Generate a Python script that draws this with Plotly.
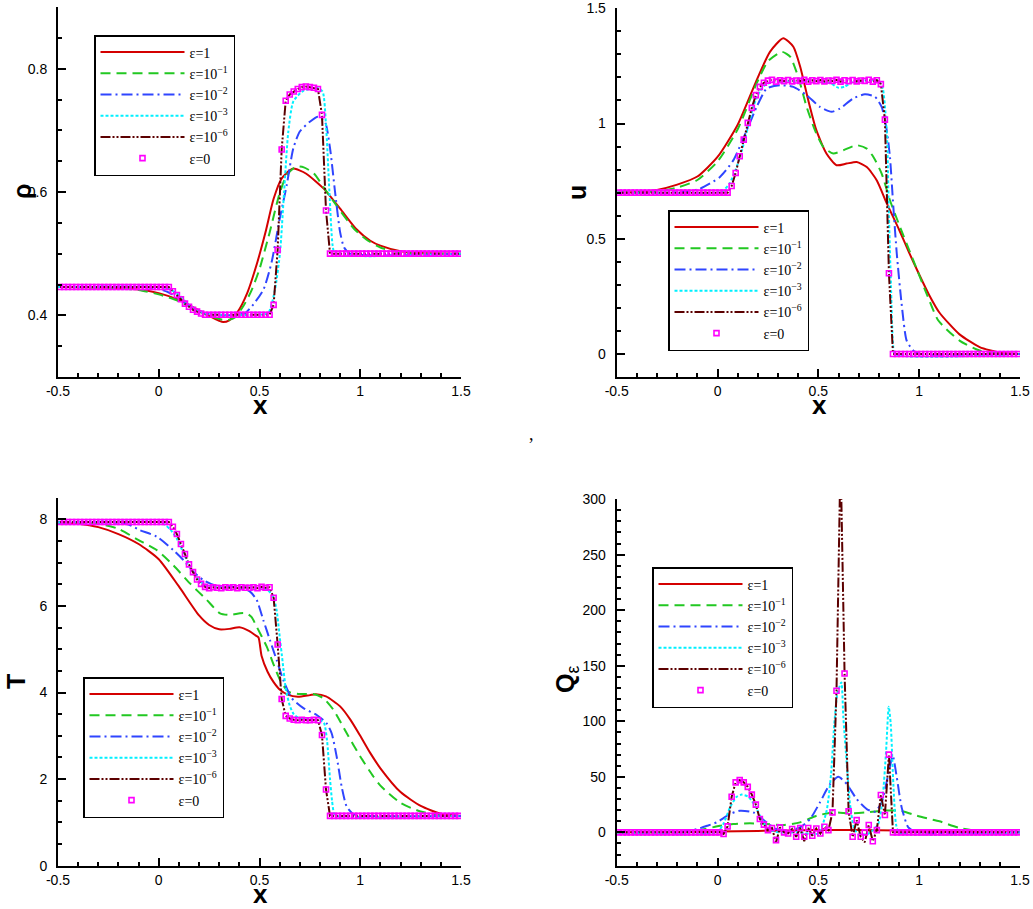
import numpy as np
import plotly.graph_objects as go

W, H = 1033, 909

# cell centres of the 100-cell mesh used by the eps=0 / eps=1e-6 runs
x_cells = np.round(np.arange(-0.49, 1.5, 0.02), 2)

labels = ["ε=1", "ε=10<sup>−1</sup>", "ε=10<sup>−2</sup>", "ε=10<sup>−3</sup>",
          "ε=10<sup>−6</sup>", "ε=0"]

# ---------------- density rho ----------------
rho_e1_x = [-0.5, -0.3, -0.2, -0.1, 0.0, 0.1, 0.2, 0.25, 0.3, 0.32, 0.35, 0.39, 0.44, 0.49, 0.53,
            0.57, 0.61, 0.65, 0.67, 0.73, 0.82, 0.9, 0.98, 1.05, 1.1, 1.2, 1.3, 1.5]
rho_e1 = [0.446, 0.445, 0.444, 0.442, 0.436, 0.425, 0.408, 0.399, 0.391, 0.389, 0.392, 0.405, 0.437,
          0.487, 0.535, 0.589, 0.622, 0.635, 0.638, 0.630, 0.605, 0.573, 0.540, 0.521, 0.513, 0.504,
          0.501, 0.500]
rho_e2_x = [-0.5, -0.2, -0.1, 0.0, 0.1, 0.2, 0.3, 0.34, 0.38, 0.42, 0.46, 0.5, 0.55, 0.6, 0.635, 0.68,
            0.72, 0.77, 0.83, 0.9, 0.97, 1.03, 1.1, 1.2, 1.3, 1.5]
rho_e2 = [0.446, 0.444, 0.441, 0.434, 0.423, 0.406, 0.394, 0.392, 0.397, 0.415, 0.440, 0.475, 0.534,
          0.598, 0.627, 0.641, 0.640, 0.630, 0.602, 0.570, 0.540, 0.523, 0.510, 0.502, 0.500, 0.500]
rho_e3_x = [-0.5, -0.1, -0.05, 0.0, 0.05, 0.1, 0.15, 0.2, 0.25, 0.3, 0.35, 0.4, 0.43, 0.47, 0.52, 0.56,
            0.6, 0.635, 0.668, 0.7, 0.75, 0.79, 0.825, 0.85, 0.875, 0.9, 0.92, 0.95, 1.5]
rho_e3 = [0.446, 0.446, 0.445, 0.443, 0.437, 0.427, 0.416, 0.407, 0.402, 0.400, 0.400, 0.401, 0.404,
          0.418, 0.442, 0.486, 0.556, 0.611, 0.671, 0.698, 0.714, 0.722, 0.714, 0.671, 0.600, 0.535,
          0.510, 0.500, 0.500]
rho_e4_x = [-0.5, 0.0, 0.05, 0.1, 0.15, 0.2, 0.25, 0.3, 0.5, 0.544, 0.577, 0.602, 0.622, 0.643, 0.668,
            0.717, 0.784, 0.813, 0.83, 0.847, 0.863, 0.875, 1.5]
rho_e4 = [0.446, 0.446, 0.443, 0.433, 0.417, 0.407, 0.402, 0.401, 0.401, 0.404, 0.442, 0.502, 0.600,
          0.698, 0.747, 0.764, 0.769, 0.763, 0.709, 0.600, 0.513, 0.500, 0.500]
rho_e0 = ([0.446] * 28
          + [0.439, 0.433, 0.426, 0.419, 0.414, 0.409, 0.406, 0.403, 0.401]
          + [0.401] * 16
          + [0.417, 0.506, 0.669, 0.748, 0.758, 0.763, 0.767, 0.770, 0.771, 0.770, 0.769, 0.767,
             0.725, 0.570]
          + [0.500] * 33)
rho_e6 = list(rho_e0)

# ---------------- velocity u ----------------
u_e1_x = [-0.5, -0.4, -0.3, -0.2, -0.1, 0.0, 0.1, 0.19, 0.26, 0.326, 0.376, 0.41, 0.45, 0.49, 0.54,
          0.59, 0.64, 0.69, 0.74, 0.79, 0.84, 0.9, 0.95, 1.0, 1.05, 1.1, 1.2, 1.3, 1.4, 1.5]
u_e1 = [0.700, 0.703, 0.712, 0.735, 0.770, 0.855, 0.995, 1.180, 1.311, 1.370, 1.333, 1.246, 1.101,
        0.971, 0.870, 0.819, 0.826, 0.833, 0.811, 0.753, 0.652, 0.540, 0.440, 0.345, 0.255, 0.180,
        0.085, 0.030, 0.006, 0.000]
u_e2_x = [-0.5, -0.3, -0.2, -0.1, 0.0, 0.1, 0.194, 0.25, 0.32, 0.36, 0.40, 0.442, 0.483, 0.525, 0.574,
          0.624, 0.69, 0.74, 0.773, 0.814, 0.855, 0.905, 0.971, 1.037, 1.095, 1.2, 1.3, 1.4, 1.5]
u_e2 = [0.700, 0.706, 0.722, 0.755, 0.835, 0.975, 1.174, 1.270, 1.311, 1.290, 1.203, 1.072, 0.971,
        0.898, 0.870, 0.884, 0.906, 0.891, 0.855, 0.783, 0.667, 0.551, 0.406, 0.261, 0.145, 0.058,
        0.015, 0.002, 0.000]
u_e3_x = [-0.5, -0.25, -0.15, -0.087, 0.012, 0.078, 0.145, 0.194, 0.244, 0.31, 0.376, 0.442, 0.508,
          0.566, 0.607, 0.673, 0.731, 0.781, 0.814, 0.839, 0.855, 0.872, 0.889, 0.913, 0.938, 0.971,
          1.0, 1.5]
u_e3 = [0.700, 0.700, 0.705, 0.717, 0.768, 0.840, 0.971, 1.072, 1.152, 1.166, 1.159, 1.123, 1.072,
        1.051, 1.065, 1.109, 1.127, 1.116, 1.072, 0.971, 0.855, 0.637, 0.435, 0.217, 0.058, 0.014,
        0.000, 0.000]
u_e4_x = [-0.5, 0.0, 0.03, 0.06, 0.09, 0.12, 0.15, 0.18, 0.21, 0.24, 0.28, 0.5, 0.56, 0.6, 0.63, 0.67,
          0.8, 0.82, 0.84, 0.85, 0.86, 0.87, 0.88, 1.5]
u_e4 = [0.700, 0.700, 0.710, 0.740, 0.800, 0.880, 0.980, 1.080, 1.140, 1.170, 1.180, 1.185, 1.175,
        1.155, 1.160, 1.180, 1.185, 1.150, 0.950, 0.600, 0.300, 0.050, 0.000, 0.000]
u_e0 = ([0.700] * 28
        + [0.729, 0.785, 0.858, 0.930, 1.003, 1.068, 1.123, 1.159, 1.177]
        + [1.186, 1.190, 1.182, 1.188, 1.184, 1.189, 1.183, 1.187, 1.185, 1.190, 1.182, 1.188, 1.184,
           1.189, 1.183, 1.187, 1.185, 1.190, 1.182, 1.188, 1.184, 1.189, 1.183, 1.187, 1.185, 1.190,
           1.182, 1.188]
        + [1.171, 1.017, 0.350]
        + [0.000] * 32)
u_e6 = list(u_e0)

# ---------------- temperature T ----------------
T_e1_x = [-0.5, -0.4, -0.3, -0.2, -0.1, 0.0, 0.1, 0.2, 0.25, 0.3, 0.35, 0.4, 0.45, 0.48, 0.495, 0.51,
          0.54, 0.57, 0.6, 0.64, 0.69, 0.75, 0.78, 0.83, 0.9, 0.95, 1.0, 1.05, 1.1, 1.2, 1.3, 1.4, 1.5]
T_e1 = [7.93, 7.90, 7.82, 7.66, 7.43, 7.08, 6.45, 5.78, 5.56, 5.46, 5.47, 5.51, 5.42, 5.32, 5.27, 4.85,
        4.48, 4.24, 4.07, 3.95, 3.90, 3.94, 3.96, 3.91, 3.68, 3.38, 3.00, 2.60, 2.25, 1.70, 1.38, 1.20,
        1.15]
T_e2_x = [-0.5, -0.3, -0.2, -0.1, -0.01, 0.072, 0.155, 0.238, 0.304, 0.354, 0.403, 0.436, 0.461, 0.486,
          0.536, 0.568, 0.602, 0.643, 0.70, 0.767, 0.817, 0.867, 0.933, 1.0, 1.065, 1.1, 1.2, 1.3, 1.4,
          1.5]
T_e2 = [7.93, 7.90, 7.78, 7.52, 7.29, 6.94, 6.52, 6.14, 5.83, 5.79, 5.83, 5.83, 5.74, 5.52, 5.06, 4.67,
        4.29, 4.02, 3.965, 3.965, 3.87, 3.60, 3.06, 2.52, 2.06, 1.85, 1.45, 1.25, 1.17, 1.15]
T_e3_x = [-0.5, -0.2, -0.15, -0.093, -0.01, 0.072, 0.122, 0.171, 0.221, 0.287, 0.403, 0.453, 0.486,
          0.519, 0.552, 0.585, 0.618, 0.66, 0.718, 0.784, 0.833, 0.858, 0.883, 0.908, 0.933, 0.966,
          1.015, 1.5]
T_e3 = [7.93, 7.92, 7.88, 7.75, 7.60, 7.29, 7.06, 6.79, 6.60, 6.46, 6.43, 6.33, 6.14, 5.67, 5.21, 4.75,
        4.29, 3.87, 3.64, 3.48, 3.29, 3.06, 2.52, 1.82, 1.36, 1.19, 1.15, 1.15]
T_e4_x = [-0.5, 0.0, 0.03, 0.06, 0.09, 0.12, 0.15, 0.18, 0.21, 0.25, 0.3, 0.5, 0.54, 0.57, 0.585, 0.6,
          0.615, 0.63, 0.65, 0.67, 0.7, 0.8, 0.82, 0.835, 0.85, 0.86, 0.87, 0.88, 1.5]
T_e4 = [7.93, 7.93, 7.88, 7.75, 7.55, 7.25, 6.95, 6.72, 6.55, 6.45, 6.43, 6.42, 6.37, 6.2, 5.9, 5.3,
        4.7, 4.1, 3.7, 3.5, 3.4, 3.36, 3.3, 2.9, 2.0, 1.5, 1.2, 1.15, 1.15]
T_e0 = ([7.94] * 28
        + [7.83, 7.66, 7.43, 7.20, 6.96, 6.78, 6.61, 6.51, 6.44]
        + [6.41, 6.43, 6.42, 6.41, 6.43, 6.42, 6.43, 6.41, 6.43, 6.42, 6.42, 6.43, 6.41, 6.44, 6.42,
           6.43]
        + [6.19, 5.11, 3.85, 3.46, 3.40]
        + [3.37, 3.36, 3.37, 3.36, 3.36, 3.37, 3.36]
        + [3.02, 1.76]
        + [1.15] * 33)
T_e6 = list(T_e0)

# ---------------- source term Q_eps ----------------
Q_e1_x = [-0.5, -0.2, 0.0, 0.2, 0.4, 0.6, 0.8, 1.0, 1.2, 1.4, 1.5]
Q_e1 = [0.0, 0.2, 0.8, 1.3, 1.8, 2.2, 2.0, 1.4, 0.6, 0.1, 0.0]
Q_e2_x = [-0.5, -0.2, -0.087, 0.012, 0.078, 0.161, 0.244, 0.326, 0.409, 0.492, 0.574, 0.657, 0.74,
          0.822, 0.905, 0.988, 1.054, 1.1, 1.2, 1.3, 1.4, 1.5]
Q_e2 = [0.0, 0.5, 2.1, 6.0, 7.5, 8.1, 7.5, 6.6, 9.0, 15.0, 18.0, 17.1, 18.0, 19.5, 19.5, 15.0, 12.0,
        10.0, 4.0, 1.0, 0.2, 0.0]
Q_e3_x = [-0.5, -0.2, -0.12, -0.05, -0.004, 0.062, 0.111, 0.177, 0.244, 0.293, 0.359, 0.409, 0.459,
          0.508, 0.558, 0.599, 0.641, 0.69, 0.74, 0.781, 0.814, 0.847, 0.869, 0.889, 0.913, 0.946,
          0.988, 1.5]
Q_e3 = [0.0, 0.0, 2.0, 6.0, 9.0, 16.5, 19.5, 18.0, 9.0, 3.0, 2.0, 4.5, 12.0, 27.0, 43.5, 50.0, 43.5,
        30.0, 21.0, 18.6, 27.0, 52.5, 69.0, 49.5, 22.5, 4.5, 0.5, 0.0]
Q_e4_x = [-0.5, -0.004, 0.029, 0.062, 0.095, 0.12, 0.153, 0.186, 0.219, 0.252, 0.3, 0.4, 0.5, 0.541,
          0.563, 0.579, 0.594, 0.614, 0.624, 0.641, 0.657, 0.677, 0.7, 0.75, 0.797, 0.819, 0.836,
          0.849, 0.859, 0.872, 0.885, 0.9, 1.5]
Q_e4 = [0.0, 0.0, 7.5, 22.5, 32.0, 34.0, 32.0, 24.0, 12.0, 3.0, 0.0, 0.0, -1.0, 19.5, 52.5, 97.5,
        124.5, 135.0, 103.5, 61.5, 25.5, 4.0, -2.0, -1.0, 7.5, 31.5, 73.5, 113.0, 97.5, 43.5, 7.5,
        0.0, 0.0]
Q_e0 = ([0.0] * 26
        + [-1.5]
        + [5.4, 32, 45, 47, 45, 41, 34, 25, 12, 7, 2, 4, -7, 4.5, 0, -1, 3, -4, 4, -4, 4, -3, 3.5, -1,
           5, 2, 18, 127.5, 340, 143, 19, -4, 11, -4, 0, 6.6, -8, 2, 33.6, 15.6, 70]
        + [0.0] * 33)
Q_e6 = ([0.0] * 26
        + [-1.5]
        + [5.4, 32, 45, 47, 45, 41, 34, 25, 12, 7, 2, 4, -9, 4.5, 0, -1, 3, -4, 4, -8, 4, -3, 3.5, -1,
           5, 2, 18, 127.5, 340, 143, 19, -4, 11, -4, -9, 6.6, -8, 2, 33.6, 15.6, 70]
        + [0.0] * 33)

# ---------------- styling ----------------
colors = ["#d40000", "#22c822", "#2f45ff", "#00f0ff", "#5c0000", "#ff00ff"]
dashes = ["solid", "10px,6px", "11px,4px,2px,4px", "3px,2px", "10px,2px,2px,2px,2px,2px"]
AXIS_FONT = "Liberation Sans"
LEG_FONT = "Liberation Serif"


def fx(px):
    return px / W


def fy(py):
    return 1 - py / H


panels = [
    dict(curves=[(rho_e1_x, rho_e1), (rho_e2_x, rho_e2), (rho_e3_x, rho_e3), (rho_e4_x, rho_e4)],
         e6=rho_e6, e0=rho_e0, box=(58, 461, 7, 377), yrange=[0.3, 0.9],
         yticks=[0.4, 0.6, 0.8], yminor=0.05, legpos=(94, 35),
         ytitle=("<b>ρ</b>", 22, 192), xtitle=(260, 405)),
    dict(curves=[(u_e1_x, u_e1), (u_e2_x, u_e2), (u_e3_x, u_e3), (u_e4_x, u_e4)],
         e6=u_e6, e0=u_e0, box=(616.7, 1020, 8.3, 377), yrange=[-0.1, 1.5],
         yticks=[0, 0.5, 1, 1.5], yminor=0.1, legpos=(668, 210),
         ytitle=("<b>u</b>", 577, 193), xtitle=(819, 405)),
    dict(curves=[(T_e1_x, T_e1), (T_e2_x, T_e2), (T_e3_x, T_e3), (T_e4_x, T_e4)],
         e6=T_e6, e0=T_e0, box=(58, 461, 497.7, 865.7), yrange=[0, 8.5],
         yticks=[0, 2, 4, 6, 8], yminor=0.5, legpos=(83, 677),
         ytitle=("<b>T</b>", 16, 682), xtitle=(260, 894)),
    dict(curves=[(Q_e1_x, Q_e1), (Q_e2_x, Q_e2), (Q_e3_x, Q_e3), (Q_e4_x, Q_e4)],
         e6=Q_e6, e0=Q_e0, box=(616.7, 1020, 499.1, 865.7), yrange=[-30, 300],
         yticks=[0, 50, 100, 150, 200, 250, 300], yminor=10, legpos=(652, 567),
         ytitle=("<b>Q</b><sub>ε</sub>", 567, 680), xtitle=(819, 894)),
]

xticks = [-0.5, 0, 0.5, 1, 1.5]

fig = go.Figure()
annotations = []
layout = {}

for i, p in enumerate(panels):
    n = i + 1
    sfx = "" if n == 1 else str(n)
    leg = "legend" + sfx
    xa, ya = "x" + sfx, "y" + sfx

    for k, (cx, cy) in enumerate(p["curves"]):
        fig.add_trace(go.Scatter(
            x=cx, y=cy, mode="lines", name=labels[k], legend=leg, xaxis=xa, yaxis=ya,
            line=dict(color=colors[k], width=2, dash=dashes[k], shape="spline", smoothing=0.6)))
    fig.add_trace(go.Scatter(
        x=x_cells, y=p["e6"], mode="lines", name=labels[4], legend=leg, xaxis=xa, yaxis=ya,
        line=dict(color=colors[4], width=2, dash=dashes[4])))
    fig.add_trace(go.Scatter(
        x=x_cells, y=p["e0"], mode="markers", name=labels[5], legend=leg, xaxis=xa, yaxis=ya,
        marker=dict(symbol="square-open", size=5, color=colors[5], line=dict(width=1.6))))

    x0, x1, y0, y1 = p["box"]
    common = dict(showline=True, linewidth=2, linecolor="black", showgrid=False, zeroline=False,
                  ticks="inside", ticklen=8, tickwidth=2, tickcolor="black", mirror=False,
                  automargin=False,
                  tickfont=dict(family=AXIS_FONT, size=14, color="black"), tickmode="array")
    layout["xaxis" + sfx] = dict(
        common, domain=[fx(x0), fx(x1)], range=[-0.5, 1.5], anchor=ya,
        tickvals=xticks, ticktext=[f"{v:g}" for v in xticks],
        minor=dict(ticks="inside", ticklen=4, tickwidth=1.5, tickcolor="black",
                   tickmode="linear", tick0=-0.5, dtick=0.1))
    layout["yaxis" + sfx] = dict(
        common, domain=[fy(y1), fy(y0)], range=p["yrange"], anchor=xa,
        tickvals=p["yticks"], ticktext=[f"{v:g}" for v in p["yticks"]], ticklabelstandoff=6,
        minor=dict(ticks="inside", ticklen=4, tickwidth=1.5, tickcolor="black",
                   tickmode="linear", tick0=p["yrange"][0], dtick=p["yminor"]))

    lx, ly = p["legpos"]
    layout[leg] = dict(x=fx(lx), y=fy(ly), xanchor="left", yanchor="top", bgcolor="white",
                       bordercolor="black", borderwidth=1.5, itemwidth=84,
                       font=dict(family=LEG_FONT, size=14, color="black"))

    t, tx, ty = p["ytitle"]
    annotations.append(dict(text=t, x=fx(tx), y=fy(ty), xref="paper", yref="paper",
                            showarrow=False, textangle=-90, xanchor="center", yanchor="middle",
                            font=dict(family=AXIS_FONT, size=25, color="black")))
    tx, ty = p["xtitle"]
    annotations.append(dict(text="<b>x</b>", x=fx(tx), y=fy(ty), xref="paper", yref="paper",
                            showarrow=False, xanchor="center", yanchor="middle",
                            font=dict(family=AXIS_FONT, size=26, color="black")))

annotations.append(dict(text=",", x=fx(531), y=fy(434), xref="paper", yref="paper",
                        showarrow=False, font=dict(family=LEG_FONT, size=18, color="black")))

fig.update_layout(width=W, height=H, margin=dict(l=0, r=0, t=0, b=0),
                  paper_bgcolor="white", plot_bgcolor="white", annotations=annotations, **layout)

# the page body has a default 8px margin; drop it so the figure sits at the window corner
fig.write_html("out.html", config={"displayModeBar": False},
               post_script="document.body.style.margin='0px';")
